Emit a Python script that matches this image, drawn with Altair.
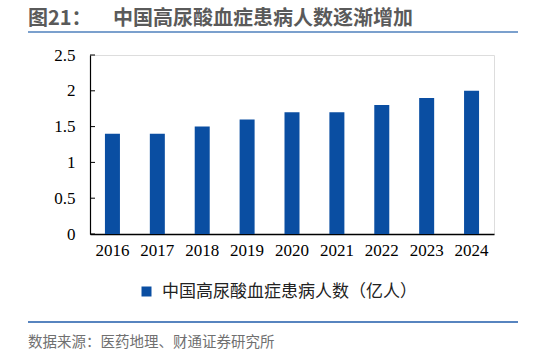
import altair as alt
import pandas as pd

years = ["2016", "2017", "2018", "2019", "2020", "2021", "2022", "2023", "2024"]
patients = [1.4, 1.4, 1.5, 1.6, 1.7, 1.7, 1.8, 1.9, 2.0]
series_name = "中国高尿酸血症患病人数（亿人）"
y_ticks = [0, 0.5, 1, 1.5, 2, 2.5]
title_prefix = "图21："
title_text = "中国高尿酸血症患病人数逐渐增加"
source_text = "数据来源：医药地理、财通证券研究所"

df = pd.DataFrame({"year": years, "value": patients, "series": [series_name] * len(years)})
ticks_df = pd.DataFrame({"value": y_ticks})

BAR = "#0A4EA2"
SERIF = "Liberation Serif"
CJK = "Noto Sans CJK SC"

x_enc = alt.X("year:N", sort=years,
              scale=alt.Scale(paddingInner=0.665, paddingOuter=0.3325),
              axis=alt.Axis(title=None, labelAngle=0, labelFont=SERIF, labelFontSize=17,
                            labelColor="#000", ticks=False, domainColor="#000", domainWidth=1.5,
                            labelPadding=8, grid=False))
y_scale = alt.Scale(domain=[0, 2.5], nice=False)
y_axis = alt.Axis(title=None, values=y_ticks, labelFont=SERIF, labelFontSize=17,
                  labelColor="#000", ticks=False, domainColor="#000", domainWidth=1.2,
                  labelPadding=15, grid=False, labelOverlap=False, labelFlush=False,
                  format="~g")

bars = alt.Chart(df).mark_bar(size=15).encode(
    x=x_enc,
    y=alt.Y("value:Q", scale=y_scale, axis=y_axis),
    color=alt.Color("series:N", scale=alt.Scale(range=[BAR]),
                    legend=alt.Legend(title=None, orient="none", legendX=48, legendY=228,
                                      symbolType="square", symbolSize=100, symbolStrokeWidth=0,
                                      labelFont=CJK, labelFontSize=17, labelColor="#222",
                                      labelOffset=7, labelLimit=500)),
)

inner_ticks = alt.Chart(ticks_df).mark_rule(color="#000", strokeWidth=1).encode(
    y=alt.Y("value:Q", scale=y_scale, axis=y_axis),
    x=alt.value(0), x2=alt.value(5),
)

deco_df = pd.DataFrame({"k": [0]})
base = alt.Chart(deco_df)

top_line = base.mark_rule(color="#4F81BD", strokeWidth=1.5).encode(
    x=alt.value(-62), x2=alt.value(428), y=alt.value(-23))
bottom_line = base.mark_rule(color="#1F5BAA", strokeWidth=1.5).encode(
    x=alt.value(-62), x2=alt.value(428), y=alt.value(267))

t1 = base.mark_text(text=title_prefix, font=CJK, fontSize=20, fontWeight="bold",
                    color="#5A5A5A", align="left", baseline="alphabetic").encode(
    x=alt.value(-62), y=alt.value(-30))
t2 = base.mark_text(text=title_text, font=CJK, fontSize=20, fontWeight="bold",
                    color="#5A5A5A", align="left", baseline="alphabetic").encode(
    x=alt.value(23), y=alt.value(-30))
src = base.mark_text(text=source_text, font=CJK, fontSize=14.5,
                     color="#707070", align="left", baseline="alphabetic").encode(
    x=alt.value(-62), y=alt.value(292))

chart = alt.layer(bars, inner_ticks, top_line, bottom_line, t1, t2, src).properties(
    width=404, height=179,
    autosize=alt.AutoSizeParams(type="none"),
    padding={"left": 90, "top": 55, "right": 39, "bottom": 118},
).configure_view(stroke=None).configure(background="white")

chart.save("out.html", embed_options={"renderer": "svg", "actions": False})
